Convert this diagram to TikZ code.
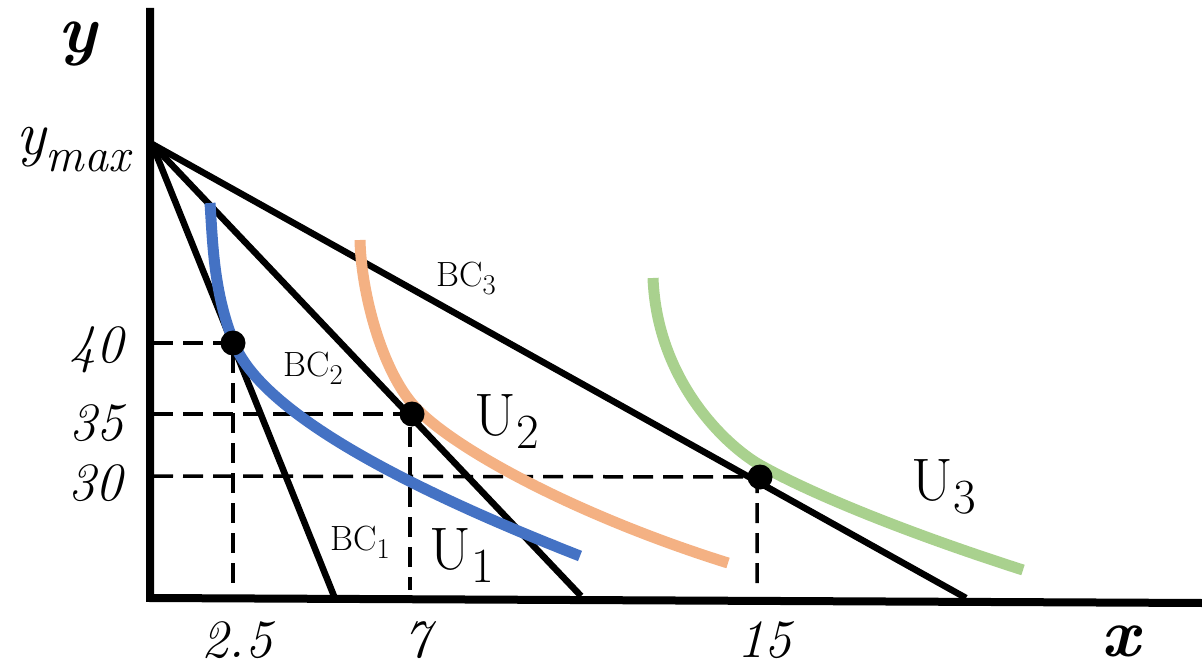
\documentclass[tikz,border=0pt]{standalone}
\usepackage{graphicx}
\definecolor{ublue}{HTML}{4472C4}
\definecolor{uorange}{HTML}{F4B183}
\definecolor{ugreen}{HTML}{A9D18E}
\newcommand{\lowsub}[2]{\raisebox{-#1}{\scalebox{0.82}{#2}}}
\begin{document}
\begin{tikzpicture}[x=1pt,y=-1pt,
  axisline/.style={line width=8pt,line join=miter},
  bcline/.style={line width=6.5pt},
  guide/.style={line width=3.5pt,dash pattern=on 20pt off 10pt},
  ucurve/.style={line width=11pt},
  tangency/.style={circle,fill=black,inner sep=0pt,minimum size=25pt},
  numlbl/.style={font=\fontsize{54}{54}\selectfont\itshape,inner sep=0pt},
  bclbl/.style={font=\fontsize{35}{35}\selectfont,inner sep=0pt},
  ulbl/.style={font=\fontsize{60}{60}\selectfont,inner sep=0pt},
  axlbl/.style={font=\fontsize{68}{68}\selectfont\bfseries\itshape,inner sep=0pt}
]
\useasboundingbox (0,0) rectangle (1202,668);
% key points
\coordinate (origin) at (150,598);
\coordinate (ytop) at (150,8);
\coordinate (xend) at (1202,603);
\coordinate (ymax) at (152,144);
\coordinate (b1) at (334,596);
\coordinate (b2) at (581,596);
\coordinate (b3) at (966,598);
\coordinate (p1) at (233,343);
\coordinate (p2) at (412,414);
\coordinate (p3) at (760,477);
\coordinate (h1) at (153,343);
\coordinate (h2) at (153,414);
\coordinate (h3) at (153,476);
\coordinate (v1) at (233,590);
\coordinate (v2) at (410,590);
\coordinate (v3) at (757,590);
% guides
\draw[guide] (h1) -- (p1) -- (v1);
\draw[guide] (h2) -- (p2 -| v2) -- (v2);
\draw[guide] (h3) -- (p3 -| v3) -- (v3);
% budget constraints
\draw[bcline] (ymax) -- (b1);
\draw[bcline] (ymax) -- (b2);
\draw[bcline] (ymax) -- (b3);
% indifference curves
\coordinate (u1a) at (210,203);
\coordinate (u1m) at (234,343);
\coordinate (u1b) at (580,556);
\draw[ucurve,ublue] (u1a) .. controls (213,248) and (214,293) .. (u1m)
  .. controls (254,393) and (340,462) .. (u1b);
\coordinate (u2a) at (360,240);
\coordinate (u2m) at (416,408);
\coordinate (u2b) at (728,563);
\draw[ucurve,uorange] (u2a) .. controls (361,290) and (381,371) .. (u2m)
  .. controls (456,450) and (578,516) .. (u2b);
\coordinate (u3a) at (653,278);
\coordinate (u3m) at (760,465);
\coordinate (u3b) at (1023,570);
\draw[ucurve,ugreen] (u3a) .. controls (657,380) and (725,445) .. (u3m)
  .. controls (820,498.5) and (923,538) .. (u3b);
% axes
\draw[axisline] (ytop) -- (origin) -- (xend);
% tangency points
\node[tangency] (d1) at (p1) {};
\node[tangency] (d2) at (p2) {};
\node[tangency] (d3) at (p3) {};
% labels
\node[axlbl] (ylab) at (78,44) {y};
\node[axlbl] (xlab) at (1121,641) {x};
\node[inner sep=0pt] (ymaxlab) at (73,150) {{\fontsize{62}{62}\selectfont\itshape y}\raisebox{-17pt}{\fontsize{48}{48}\selectfont\itshape max}};
\node[numlbl] (n40) at (96,350) {40};
\node[numlbl] (n35) at (96,423) {35};
\node[numlbl] (n30) at (95,483) {30};
\node[numlbl] (n25) at (237,640) {2.5};
\node[numlbl] (n7) at (417,640) {7};
\node[numlbl] (n15) at (764,640) {15};
\node[bclbl] (bc1) at (360,542) {BC\lowsub{8pt}{1}};
\node[bclbl] (bc2) at (313,368) {BC\lowsub{8pt}{2}};
\node[bclbl] (bc3) at (466,278) {BC\lowsub{8pt}{3}};
\node[ulbl] (u1) at (462,556) {U\lowsub{13pt}{1}};
\node[ulbl] (u2) at (507,422) {U\lowsub{13pt}{2}};
\node[ulbl] (u3) at (944,487) {U\lowsub{13pt}{3}};
\end{tikzpicture}
\end{document}
